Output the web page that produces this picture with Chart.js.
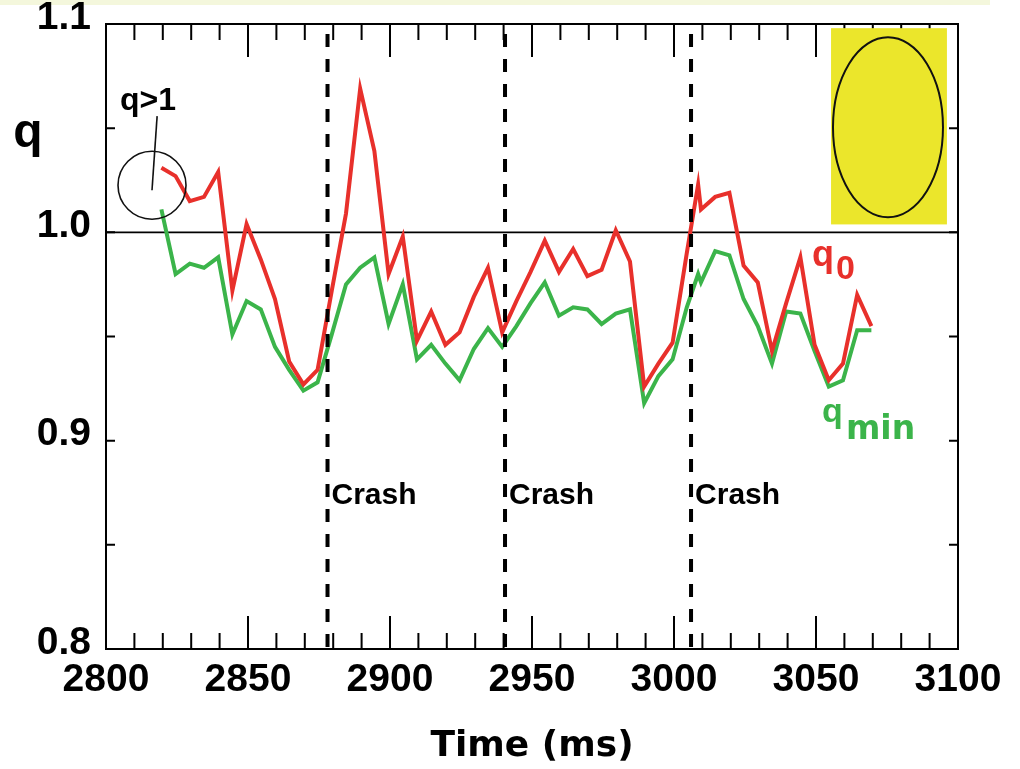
<!DOCTYPE html>
<html>
<head>
<meta charset="utf-8">
<script src="https://cdn.jsdelivr.net/npm/chart.js@4.4.1/dist/chart.umd.min.js"></script>
<style>
  html, body { margin: 0; padding: 0; background: #fff; }
  #wrap { width: 1020px; height: 769px; position: relative; }
</style>
</head>
<body>
<div id="wrap"><canvas id="chart"></canvas></div>
<script>
// time of each profile reconstruction (ms)
const times = [
  2819.5, 2824.5, 2829.5, 2834.5, 2839.5, 2844.5, 2849.5, 2854.5, 2859.5, 2864.5,
  2869.5, 2874.5, 2879.5, 2884.5, 2889.5, 2894.5, 2899.5, 2904.5, 2909.5, 2914.5,
  2919.5, 2924.5, 2929.5, 2934.5, 2939.5, 2944.5, 2949.5, 2954.5, 2959.5, 2964.5,
  2969.5, 2974.5, 2979.5, 2984.5, 2989.5, 2994.5, 2999.5, 3004.5, 3008.5, 3009.5,
  3014.5, 3019.5, 3024.5, 3029.5, 3034.5, 3039.5, 3044.5, 3049.5, 3054.5, 3059.5,
  3064.5, 3069.5
];

// q on axis
const q0 = [
  1.031, 1.027, 1.015, 1.017, 1.029, 0.972, 1.004, 0.987, 0.968, 0.938,
  0.927, 0.934, 0.972, 1.009, 1.069, 1.039, 0.980, 0.998, 0.948, 0.962,
  0.946, 0.952, 0.969, 0.983, 0.952, 0.967, 0.981, 0.996, 0.981, 0.992,
  0.979, 0.982, 1.001, 0.986, 0.926, 0.937, 0.947, 0.990, 1.023, 1.011,
  1.017, 1.019, 0.984, 0.976, 0.943, 0.966, 0.988, 0.946, 0.929, 0.937,
  0.970, 0.955
];

// minimum q
const qmin = [
  1.011, 0.980, 0.985, 0.983, 0.988, 0.951, 0.967, 0.963, 0.945, 0.934,
  0.924, 0.928, 0.951, 0.975, 0.983, 0.988, 0.956, 0.975, 0.939, 0.946,
  0.937, 0.929, 0.944, 0.954, 0.945, 0.955, 0.966, 0.976, 0.960, 0.964,
  0.963, 0.956, 0.961, 0.963, 0.918, 0.931, 0.939, 0.964, 0.980, 0.976,
  0.991, 0.989, 0.968, 0.955, 0.937, 0.962, 0.961, 0.943, 0.926, 0.929,
  0.953, 0.953
];

// sawtooth crash times (ms)
const crashTimes = [2878, 2940.5, 3006];

const RED = '#e8302b';
const GREEN = '#3bb44a';
const FONT = "'Liberation Sans', Arial, sans-serif";

const toPoints = ys => times.map((t, i) => ({ x: t, y: ys[i] }));

const decor = {
  id: 'decor',
  beforeDraw(chart) {
    const { ctx } = chart;
    ctx.save();
    ctx.fillStyle = '#f4f7dc';
    ctx.fillRect(0, 0, 990, 5);
    ctx.restore();
  },
  beforeDatasetsDraw(chart) {
    const { ctx, chartArea: a, scales: { y } } = chart;
    ctx.save();
    ctx.strokeStyle = '#000';
    ctx.lineWidth = 1.6;
    ctx.beginPath();
    ctx.moveTo(a.left, y.getPixelForValue(1.0));
    ctx.lineTo(a.right, y.getPixelForValue(1.0));
    ctx.stroke();
    ctx.restore();
  },
  afterDatasetsDraw(chart) {
    const { ctx, chartArea: a, scales: { x, y } } = chart;
    ctx.save();

    // crash markers
    ctx.strokeStyle = '#000';
    ctx.lineWidth = 4;
    ctx.setLineDash([13, 12]);
    crashTimes.forEach(t => {
      const px = x.getPixelForValue(t);
      ctx.beginPath();
      ctx.moveTo(px, a.top + 10);
      ctx.lineTo(px, a.bottom);
      ctx.stroke();
    });
    ctx.setLineDash([]);
    ctx.fillStyle = '#000';
    ctx.font = `bold 30px ${FONT}`;
    ctx.textAlign = 'left';
    ctx.textBaseline = 'alphabetic';
    crashTimes.forEach(t => {
      ctx.fillText('Crash', x.getPixelForValue(t) + 4, y.getPixelForValue(0.8695));
    });

    // frame
    ctx.lineWidth = 2;
    ctx.strokeRect(a.left, a.top, a.right - a.left, a.bottom - a.top);

    // inward ticks
    ctx.beginPath();
    for (let t = 2800; t <= 3100; t += 10) {
      const px = x.getPixelForValue(t);
      const len = t % 50 === 0 ? 33 : 16;
      ctx.moveTo(px, a.bottom);
      ctx.lineTo(px, a.bottom - len);
      ctx.moveTo(px, a.top);
      ctx.lineTo(px, a.top + len);
    }
    for (let v = 0.8; v <= 1.1001; v += 0.05) {
      const py = y.getPixelForValue(v);
      ctx.moveTo(a.left, py);
      ctx.lineTo(a.left + 9, py);
      ctx.moveTo(a.right, py);
      ctx.lineTo(a.right - 9, py);
    }
    ctx.stroke();

    // equilibrium shape inset
    const ix0 = x.getPixelForValue(3055.3), ix1 = x.getPixelForValue(3096.1);
    const iy0 = y.getPixelForValue(1.098), iy1 = y.getPixelForValue(1.0038);
    ctx.fillStyle = '#ebe62b';
    ctx.fillRect(ix0, iy0, ix1 - ix0, iy1 - iy0);
    ctx.strokeStyle = '#111';
    ctx.lineWidth = 2;
    ctx.beginPath();
    ctx.ellipse((ix0 + ix1) / 2 - 1, (iy0 + iy1) / 2 + 1, 55, 90, 0, 0, Math.PI * 2);
    ctx.stroke();

    // q>1 annotation
    const cx = x.getPixelForValue(2816.2), cy = y.getPixelForValue(1.0226);
    ctx.lineWidth = 1.6;
    ctx.beginPath();
    ctx.arc(cx, cy, 34, 0, Math.PI * 2);
    ctx.stroke();
    ctx.beginPath();
    ctx.moveTo(cx, cy + 5);
    ctx.lineTo(x.getPixelForValue(2818), y.getPixelForValue(1.0558));
    ctx.stroke();
    ctx.fillStyle = '#000';
    ctx.font = `bold 32px ${FONT}`;
    ctx.textAlign = 'center';
    ctx.fillText('q>1', x.getPixelForValue(2814.8), y.getPixelForValue(1.0587));

    // axis name
    ctx.font = `bold 48px ${FONT}`;
    ctx.fillText('q', 28, 147);

    // series labels
    ctx.textAlign = 'left';
    let lx = x.getPixelForValue(3048.6), ly = y.getPixelForValue(0.9837);
    ctx.fillStyle = RED;
    ctx.font = `bold 36px ${FONT}`;
    ctx.fillText('q', lx, ly);
    ctx.font = `bold 34px ${FONT}`;
    ctx.fillText('0', lx + 24, ly + 13);

    lx = x.getPixelForValue(3052.1); ly = y.getPixelForValue(0.9092);
    ctx.fillStyle = GREEN;
    ctx.font = `bold 34px ${FONT}`;
    ctx.fillText('q', lx, ly);
    ctx.font = "bold 33px 'DejaVu Sans', sans-serif";
    ctx.fillText('min', lx + 24, ly + 17);

    // x axis title
    ctx.fillStyle = '#000';
    ctx.textAlign = 'center';
    ctx.font = "bold 36px 'DejaVu Sans', sans-serif";
    ctx.fillText('Time (ms)', 532, 756);

    ctx.restore();
  }
};

new Chart(document.getElementById('chart'), {
  type: 'scatter',
  data: {
    datasets: [
      {
        label: 'q0',
        data: toPoints(q0),
        showLine: true,
        borderColor: RED,
        borderWidth: 4,
        pointRadius: 0,
        tension: 0
      },
      {
        label: 'qmin',
        data: toPoints(qmin),
        showLine: true,
        borderColor: GREEN,
        borderWidth: 4,
        pointRadius: 0,
        tension: 0
      }
    ]
  },
  options: {
    responsive: true,
    maintainAspectRatio: false,
    animation: false,
    layout: { padding: { top: 24, right: 62, left: 0, bottom: 0 } },
    plugins: {
      legend: { display: false },
      tooltip: { enabled: false }
    },
    scales: {
      x: {
        type: 'linear',
        min: 2800,
        max: 3100,
        grid: { display: false, drawTicks: false },
        border: { display: false },
        ticks: {
          stepSize: 50,
          autoSkip: false,
          maxRotation: 0,
          padding: 8,
          color: '#000',
          font: { family: FONT, size: 39, weight: 'bold' },
          callback: v => String(v)
        },
        afterFit: scale => {
          scale.height = 120;
          scale.paddingLeft = 0;
          scale.paddingRight = 0;
        }
      },
      y: {
        min: 0.8,
        max: 1.1,
        grid: { display: false, drawTicks: false },
        border: { display: false },
        ticks: {
          stepSize: 0.1,
          padding: 15,
          labelOffset: -6,
          color: '#000',
          font: { family: FONT, size: 39, weight: 'bold' },
          callback: v => v.toFixed(1)
        },
        afterFit: scale => {
          scale.width = 106;
          scale.paddingTop = 0;
          scale.paddingBottom = 0;
        }
      }
    }
  },
  plugins: [decor]
});
</script>
</body>
</html>
